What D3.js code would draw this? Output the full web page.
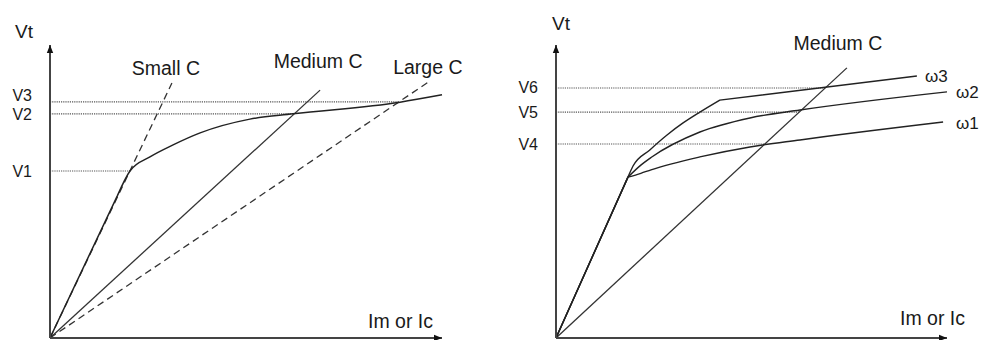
<!DOCTYPE html>
<html>
<head>
<meta charset="utf-8">
<script src="https://cdn.jsdelivr.net/npm/d3@7"></script>
<style>
  body { margin: 0; background: #fff; }
  svg text { font-family: "Liberation Sans", Arial, sans-serif; fill: #1a1a1a; }
</style>
</head>
<body>
<div id="chart"></div>
<script>
// left panel: Vt against current for three capacitor sizes
const leftLevels = ['V1', 'V2', 'V3'];
const leftLevelValues = [5.70, 7.65, 8.06];
const leftLevelStops = [0, 1, 2]; // index of the C line where each dotted level ends
const capNames = ['Small C', 'Medium C', 'Large C'];
const capEnds = [[3.11, 8.70], [6.89, 8.46], [9.69, 8.77]];
const capDashed = [true, false, true];
const magCurve = [[0, 0], [1.72, 4.86], [2.04, 5.70], [2.55, 6.18], [3.14, 6.59],
  [3.83, 7.0], [5.1, 7.47], [6.2, 7.65], [8.93, 8.05], [10, 8.3]];
const magCorners = [1];

// right panel: Vt against current for three speeds, medium C
const rightLevels = ['V4', 'V5', 'V6'];
const rightLevelValues = [6.62, 7.71, 8.53];
const speedNames = ['ω1', 'ω2', 'ω3'];
const speedCurves = [
  [[0, 0], [1.84, 5.49], [2.17, 5.62], [2.43, 5.74], [3.68, 6.18], [4.96, 6.52], [6.24, 6.76], [9.90, 7.37]],
  [[0, 0], [1.84, 5.49], [2.17, 5.90], [2.43, 6.16], [3.68, 7.03], [4.96, 7.51], [6.24, 7.78], [10, 8.40]],
  [[0, 0], [1.84, 5.49], [1.97, 5.87], [2.40, 6.42], [2.84, 6.93], [3.25, 7.34], [3.68, 7.71], [4.19, 8.12], [9.23, 8.94]]
];
const speedCorners = [[1], [1], [1, 7]]; // points where the curve has a kink
const rightCapName = 'Medium C';
const rightCapEnd = [7.44, 9.22];

const width = 981;
const height = 340;
const ink = '#222';

const svg = d3.select('#chart').append('svg').attr('width', width).attr('height', height);

svg.append('defs')
  .append('marker')
  .attr('id', 'arrow')
  .attr('viewBox', '0 -5 10 10')
  .attr('refX', 10)
  .attr('refY', 0)
  .attr('markerUnits', 'userSpaceOnUse')
  .attr('markerWidth', 10)
  .attr('markerHeight', 8)
  .attr('orient', 'auto')
  .append('path')
  .attr('d', 'M0,-4L10,0L0,4Z')
  .attr('fill', '#111');

const smooth = d3.line().curve(d3.curveMonotoneX);

// smooth between kinks, sharp at the kinks
function kinkedPath(points, corners) {
  const cuts = [0, ...corners, points.length - 1];
  let d = '';
  for (let k = 0; k < cuts.length - 1; k++) {
    const part = smooth(points.slice(cuts[k], cuts[k + 1] + 1));
    d += k === 0 ? part : part.replace(/^M[^LC]*/, '');
  }
  return d;
}

function drawAxes(x, y, yLabelPos, xLabelPos) {
  const [x0, x1] = x.range();
  const [y0, y1] = y.range();
  svg.append('line')
    .attr('x1', x0).attr('y1', y0).attr('x2', x0).attr('y2', y1)
    .attr('stroke', '#444').attr('stroke-width', 2).attr('marker-end', 'url(#arrow)');
  svg.append('line')
    .attr('x1', x0).attr('y1', y0).attr('x2', x1).attr('y2', y0)
    .attr('stroke', '#444').attr('stroke-width', 2).attr('marker-end', 'url(#arrow)');
  svg.append('text').attr('x', yLabelPos[0]).attr('y', yLabelPos[1])
    .attr('font-size', 19).text('Vt');
  svg.append('text').attr('x', xLabelPos[0]).attr('y', xLabelPos[1])
    .attr('font-size', 19.5).text('Im or Ic');
}

function drawLevels(x, y, names, values, stops, labelDy) {
  const g = svg.append('g');
  g.selectAll('line')
    .data(values)
    .enter()
    .append('line')
    .attr('x1', x(0))
    .attr('x2', (d, i) => x(stops[i]))
    .attr('y1', (d) => y(d))
    .attr('y2', (d) => y(d))
    .attr('stroke', '#555')
    .attr('stroke-width', 1.1)
    .attr('stroke-dasharray', '1.2,1');
  g.selectAll('text')
    .data(values)
    .enter()
    .append('text')
    .attr('x', x(0) - 18)
    .attr('y', (d, i) => y(d) + labelDy[i])
    .attr('text-anchor', 'end')
    .attr('font-size', 16)
    .text((d, i) => names[i]);
}

// ---------- left panel ----------
const xL = d3.scaleLinear().domain([0, 10]).range([50, 442]);
const yL = d3.scaleLinear().domain([0, 10]).range([338, 45]);

// where each level meets its C line
const leftStopX = leftLevelValues.map((v, i) => {
  const e = capEnds[leftLevelStops[i]];
  return v * e[0] / e[1];
});
drawLevels(xL, yL, leftLevels, leftLevelValues, leftStopX, [6, 6, -1]);

svg.append('g')
  .selectAll('line')
  .data(capEnds)
  .enter()
  .append('line')
  .attr('x1', xL(0))
  .attr('y1', yL(0))
  .attr('x2', (d) => xL(d[0]))
  .attr('y2', (d) => yL(d[1]))
  .attr('stroke', '#333')
  .attr('stroke-width', 1.3)
  .attr('stroke-dasharray', (d, i) => (capDashed[i] ? '7,4.5' : null));

const capLabelOffset = [[-6, -8], [-2, -22], [-2, -7]];
svg.append('g')
  .selectAll('text')
  .data(capEnds)
  .enter()
  .append('text')
  .attr('x', (d, i) => xL(d[0]) + capLabelOffset[i][0])
  .attr('y', (d, i) => yL(d[1]) + capLabelOffset[i][1])
  .attr('text-anchor', 'middle')
  .attr('font-size', 19.5)
  .text((d, i) => capNames[i]);

svg.append('path')
  .attr('d', kinkedPath(magCurve.map((d) => [xL(d[0]), yL(d[1])]), magCorners))
  .attr('fill', 'none')
  .attr('stroke', ink)
  .attr('stroke-width', 1.5);

drawAxes(xL, yL, [15, 38], [368, 328]);

// ---------- right panel ----------
const xR = d3.scaleLinear().domain([0, 10]).range([556, 947]);
const yR = d3.scaleLinear().domain([0, 10]).range([338, 45]);

const rightStopX = rightLevelValues.map((v) => v * rightCapEnd[0] / rightCapEnd[1]);
drawLevels(xR, yR, rightLevels, rightLevelValues, rightStopX, [6, 6, 5]);

svg.append('line')
  .attr('x1', xR(0)).attr('y1', yR(0))
  .attr('x2', xR(rightCapEnd[0])).attr('y2', yR(rightCapEnd[1]))
  .attr('stroke', '#333').attr('stroke-width', 1.3);
svg.append('text')
  .attr('x', xR(rightCapEnd[0]) - 9)
  .attr('y', yR(rightCapEnd[1]) - 18)
  .attr('text-anchor', 'middle')
  .attr('font-size', 19.5)
  .text(rightCapName);

svg.append('g')
  .selectAll('path')
  .data(speedCurves)
  .enter()
  .append('path')
  .attr('d', (d, i) => kinkedPath(d.map((p) => [xR(p[0]), yR(p[1])]), speedCorners[i]))
  .attr('fill', 'none')
  .attr('stroke', ink)
  .attr('stroke-width', 1.4);

const speedLabelOffset = [[13, 7], [9, 6], [8, 6]];
svg.append('g')
  .selectAll('text')
  .data(speedCurves)
  .enter()
  .append('text')
  .attr('x', (d, i) => xR(d[d.length - 1][0]) + speedLabelOffset[i][0])
  .attr('y', (d, i) => yR(d[d.length - 1][1]) + speedLabelOffset[i][1])
  .attr('font-size', 17)
  .text((d, i) => speedNames[i]);

drawAxes(xR, yR, [552, 30], [900, 325]);
</script>
</body>
</html>
